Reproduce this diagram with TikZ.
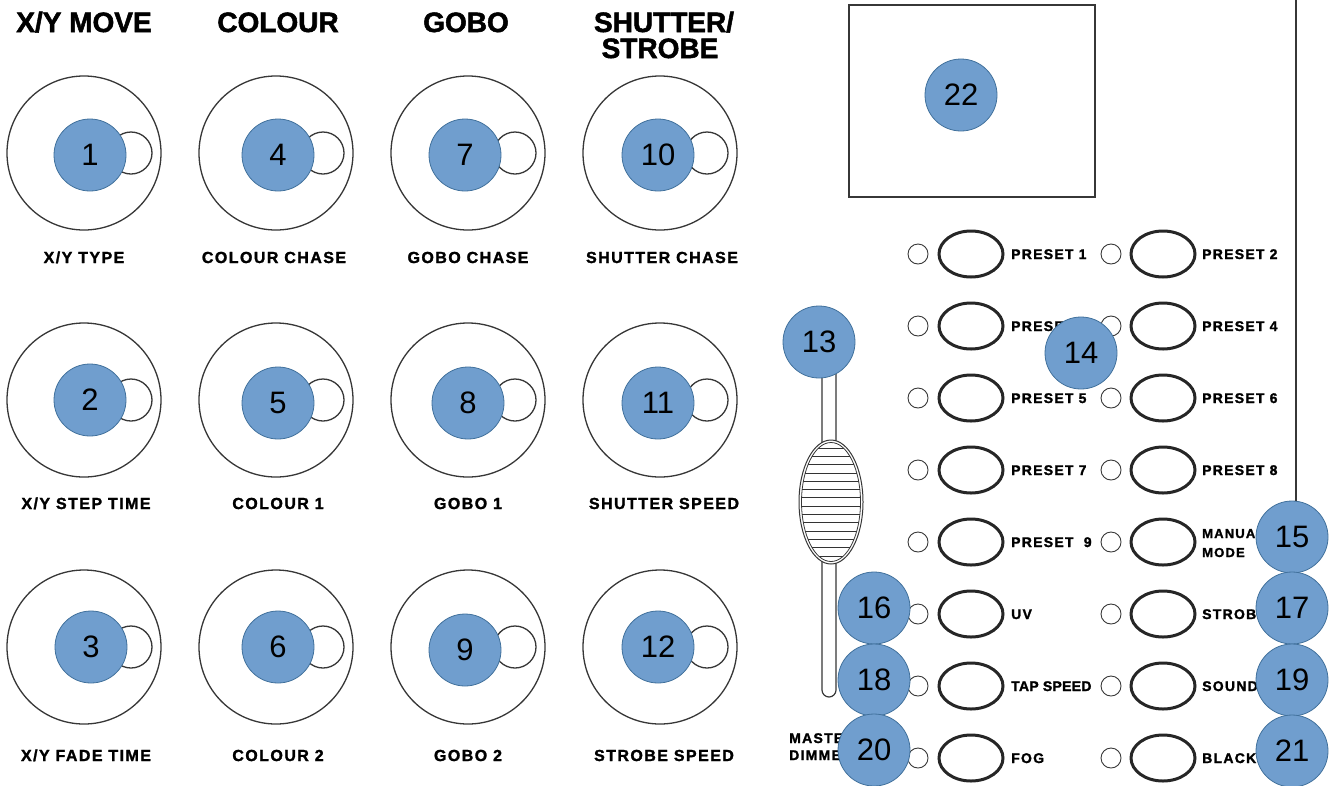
\documentclass[tikz,border=0pt]{standalone}
\usepackage{fontspec}
\setmainfont{Liberation Sans}
\newfontfamily\lblfont[LetterSpace=9, BoldFeatures={FakeBold=1.6}]{Liberation Sans}
\newfontfamily\tapfont[LetterSpace=2, BoldFeatures={FakeBold=1.6}]{Liberation Sans}
\newfontfamily\headfont[BoldFeatures={FakeBold=1.8}]{Liberation Sans}
\usetikzlibrary{shapes.geometric}
\definecolor{bluefill}{RGB}{112,158,206}
\definecolor{blueline}{RGB}{65,113,156}
\definecolor{outl}{RGB}{55,55,55}
\begin{document}
\begin{tikzpicture}[x=1pt,y=-1pt,
 badge/.style={circle, fill=bluefill, draw=blueline, line width=0.8pt, minimum size=72pt, inner sep=0pt, font=\fontsize{31}{31}\selectfont},
 knobring/.style={circle, draw=outl, line width=1.3pt, minimum size=154pt, inner sep=0pt},
 knobdot/.style={circle, draw=outl, line width=1.3pt, minimum size=42pt, inner sep=0pt},
 head/.style={font=\headfont\fontsize{28}{27}\selectfont\bfseries, align=center, inner sep=0pt},
 klabel/.style={anchor=base, inner sep=0pt, font=\lblfont\fontsize{16}{16}\selectfont\bfseries},
 led/.style={circle, draw=outl, line width=0.9pt, minimum size=20pt, inner sep=0pt},
 btn/.style={ellipse, draw=black!85, line width=3pt, minimum width=64pt, minimum height=46pt, inner sep=0pt},
 blabel/.style={anchor=base west, inner sep=0pt, align=left, font=\lblfont\fontsize{14}{18}\selectfont\bfseries}
]
\useasboundingbox (0,0) rectangle (1335,785);
\fill[white] (0,0) rectangle (1335,785);

% headers
\node[head, anchor=base] (hxy) at (84,32) {X/Y MOVE};
\node[head, anchor=base] (hcol) at (278,32) {COLOUR};
\node[head, anchor=base] (hgobo) at (466,32) {GOBO};
\node[head, anchor=base] (hsh) at (664,32) {SHUTTER/};
\node[head, anchor=base] (hst) at (660,58) {STROBE};

% knobs
\foreach \cx/\col in {84/a,276/b,468/c,660/d}{
  \foreach \cy/\row in {153/1,400/2,647/3}{
    \node[knobring] (ring-\col\row) at (\cx,\cy) {};
    \node[knobdot] (dot-\col\row) at (\cx+47,\cy) {};
  }
}

% knob labels
\node[klabel] (l1) at (84,263) {X/Y TYPE};
\node[klabel] (l4) at (274,263) {COLOUR CHASE};
\node[klabel] (l7) at (468,263) {GOBO CHASE};
\node[klabel] (l10) at (662,263) {SHUTTER CHASE};
\node[klabel] (l2) at (86,509) {X/Y STEP TIME};
\node[klabel] (l5) at (278,509) {COLOUR 1};
\node[klabel] (l8) at (468,509) {GOBO 1};
\node[klabel] (l11) at (664,509) {SHUTTER SPEED};
\node[klabel] (l3) at (86,761) {X/Y FADE TIME};
\node[klabel] (l6) at (278,761) {COLOUR 2};
\node[klabel] (l9) at (468,761) {GOBO 2};
\node[klabel] (l12) at (664,761) {STROBE SPEED};

% display and panel edge
\node[draw=outl, line width=1.5pt, minimum width=246pt, minimum height=192pt, inner sep=0pt] (screen) at (972,101) {};
\draw[outl, line width=1.3pt] (1296,0) -- (1296,505);

% slider
\draw[outl, line width=1.2pt, rounded corners=7pt] (822,345) -- (822,697) -- (836,697) -- (836,345);
\draw[outl, line width=1pt, fill=white] (831,502) ellipse [x radius=32, y radius=62];
\draw[outl, line width=0.8pt] (831,502) ellipse [x radius=29.5, y radius=59.5];
\begin{scope}
  \clip (831,502) ellipse [x radius=29.5, y radius=59.5];
  \foreach \k in {0,...,13}{
    \draw[black!80, line width=0.8pt] (795,448+8.3*\k) -- (867,448+8.3*\k);
  }
\end{scope}
\node[anchor=base west, inner sep=0pt, align=left, font=\lblfont\fontsize{14}{17}\selectfont\bfseries] (mast) at (789,760) {MASTER\\DIMMER};

% buttons
\foreach \r/\yy/\lt in {1/254/PRESET 1,2/326/PRESET 3,3/398/PRESET 5,4/470/PRESET 7,5/542/PRESET\ \ 9,6/614/UV,7/686/{\tapfont TAP SPEED},8/758/FOG}{
  \node[led] (ledL\r) at (918,\yy) {};
  \node[btn] (btnL\r) at (971,\yy) {};
  \node[blabel] (labL\r) at (1011,\yy+5) {\lt};
  \node[led] (ledR\r) at (1111,\yy) {};
  \node[btn] (btnR\r) at (1163,\yy) {};
}
\foreach \r/\yy/\rt in {1/254/PRESET 2,2/326/PRESET 4,3/398/PRESET 6,4/470/PRESET 8,6/614/STROBE,7/686/SOUND,8/758/BLACKOUT}{
  \node[blabel] (labR\r) at (1202,\yy+5) {\rt};
}
\node[blabel, font=\lblfont\fontsize{13}{19}\selectfont\bfseries] (labR5) at (1202,557) {MANUAL\\MODE};

% badges
\node[badge] (b1) at (90,155) {1};
\node[badge] (b2) at (90,400) {2};
\node[badge] (b3) at (91,647) {3};
\node[badge] (b4) at (278,155) {4};
\node[badge] (b5) at (278,403) {5};
\node[badge] (b6) at (278,647) {6};
\node[badge] (b7) at (465,155) {7};
\node[badge] (b8) at (468,403) {8};
\node[badge] (b9) at (465,650) {9};
\node[badge] (b10) at (658,155) {10};
\node[badge] (b11) at (658,403) {11};
\node[badge] (b12) at (658,647) {12};
\node[badge] (b13) at (819,342) {13};
\node[badge] (b14) at (1081,353) {14};
\node[badge] (b15) at (1292,537) {15};
\node[badge] (b16) at (874,608) {16};
\node[badge] (b17) at (1292,608) {17};
\node[badge] (b18) at (874,680) {18};
\node[badge] (b19) at (1292,680) {19};
\node[badge] (b20) at (874,750) {20};
\node[badge] (b21) at (1292,751) {21};
\node[badge] (b22) at (961,95) {22};
\end{tikzpicture}
\end{document}
